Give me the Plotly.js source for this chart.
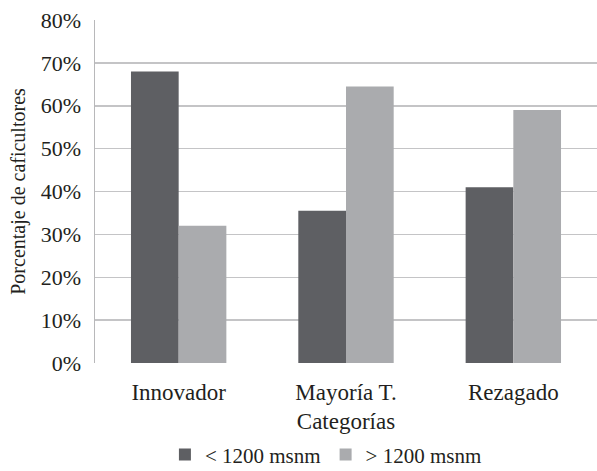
<!DOCTYPE html>
<html>
<head>
<meta charset="utf-8">
<script src="https://cdn.plot.ly/plotly-3.0.1.min.js"></script>
<style>html,body{margin:0;padding:0;background:#fff;}#chart{width:597px;height:471px;}</style>
</head>
<body>
<div id="chart"></div>
<script>
const categories = ["Innovador", "Mayoría T.", "Rezagado"];
const seriesNames = ["< 1200 msnm", "> 1200 msnm"];
const below1200 = [0.68, 0.355, 0.41];
const above1200 = [0.32, 0.645, 0.59];
const yTickVals = [0, 0.1, 0.2, 0.3, 0.4, 0.5, 0.6, 0.7, 0.8];

const fontFam = "'Liberation Serif', 'DejaVu Serif', serif";
const traces = [
  {type: 'bar', name: seriesNames[0], x: categories, y: below1200, marker: {color: '#5e5f63'}},
  {type: 'bar', name: seriesNames[1], x: categories, y: above1200, marker: {color: '#aaabae'}}
];
const layout = {
  width: 597, height: 471,
  margin: {l: 95, r: 0, t: 20, b: 108, autoexpand: false},
  paper_bgcolor: '#fff', plot_bgcolor: '#fff',
  font: {family: fontFam, size: 22, color: '#231f20'},
  barmode: 'group', bargap: 0.43, bargroupgap: 0,
  showlegend: true,
  legend: {orientation: 'h', x: 0.46, xanchor: 'center', y: -0.268, yanchor: 'middle',
           font: {size: 21}, itemwidth: 30, traceorder: 'normal', tracegroupgap: 0},
  xaxis: {
    type: 'category', showgrid: false, zeroline: false, showline: false, automargin: false,
    ticks: '', ticklabelstandoff: 13, tickfont: {size: 23},
    title: {text: 'Categorías', standoff: 8, font: {size: 23}}
  },
  yaxis: {
    range: [0, 0.8], tickvals: yTickVals, tickformat: '.0%', automargin: false,
    showgrid: true, gridcolor: '#c4c4c6', gridwidth: 1.5,
    zeroline: false, showline: true, linecolor: '#b8b8ba', linewidth: 1.5,
    ticks: '', ticklabelstandoff: 8, tickfont: {size: 22},
    title: {text: 'Porcentaje de caficultores', standoff: 10, font: {size: 20}}
  }
};
Plotly.newPlot('chart', traces, layout, {displayModeBar: false, staticPlot: true});
</script>
</body>
</html>
